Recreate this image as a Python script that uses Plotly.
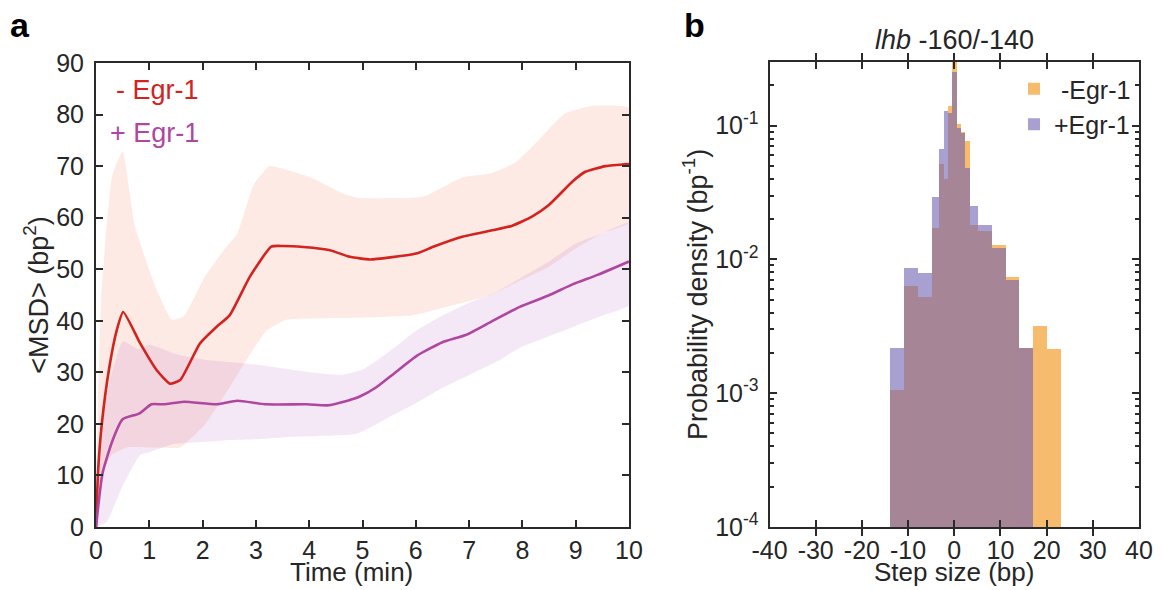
import plotly.graph_objects as go

W, H = 1162, 590

# ---------------- Panel a data (time in min, MSD in bp^2) ----------------
t_red = [0, 0.04, 0.11, 0.25, 0.39, 0.51, 0.83, 1.14, 1.39, 1.58, 1.95, 2.26, 2.51, 2.89, 3.29, 3.51,
         3.89, 4.39, 4.76, 5.14, 5.52, 6.03, 6.34, 6.87, 7.41, 7.80, 8.18, 8.49, 8.95, 9.18, 9.56, 10]
msd_red = [0, 11, 20.1, 31, 38.2, 41.7, 35.6, 30.4, 27.8, 28.5, 35.6, 38.8, 41.1, 48.6, 54.4, 54.5,
           54.3, 53.7, 52.4, 51.9, 52.3, 53.1, 54.4, 56.3, 57.5, 58.4, 60.2, 62.4, 67.1, 68.9, 70.0, 70.4]

t_pur = [0, 0.12, 0.3, 0.5, 0.81, 1.04, 1.27, 1.65, 2.27, 2.65, 3.19, 3.96, 4.34, 4.72, 4.95, 5.26,
         5.57, 6.03, 6.49, 6.95, 7.41, 7.95, 8.49, 8.95, 9.41, 10]
msd_pur = [0, 10.3, 16.5, 20.9, 22.0, 23.8, 23.8, 24.3, 23.8, 24.5, 23.8, 23.8, 23.6, 24.5, 25.3, 27.1,
           29.6, 33.3, 35.8, 37.3, 39.8, 42.7, 44.9, 47.1, 48.9, 51.5]

t_red_hi = [0, 0.03, 0.1, 0.3, 0.5, 0.73, 1.11, 1.42, 1.65, 2.04, 2.42, 2.65, 2.96, 3.26, 3.57, 4.03,
            4.65, 4.95, 5.88, 6.18, 6.87, 7.41, 7.87, 8.18, 8.8, 9.33, 10]
red_hi = [0, 20, 45, 68, 72.9, 58.4, 46.7, 40.2, 40.9, 48.5, 54, 56.9, 66.4, 70, 69.3, 67.8,
          64.6, 63.8, 63.8, 64.2, 67.8, 68.6, 70.7, 73.7, 80.2, 81.7, 81.3]
t_red_lo = [0, 0.1, 0.3, 0.6, 1.1, 1.57, 2.04, 2.5, 2.8, 3.19, 3.57, 4.95, 5.9, 6.5, 7.4, 8.0, 8.5, 9.0, 9.5, 10]
red_lo = [0, 10, 14, 15.5, 15.4, 15.4, 19.8, 27, 32, 38, 40.2, 40.6, 41, 42.5, 45, 48, 50.5, 54, 57, 59]

t_pur_hi = [0, 0.1, 0.3, 0.5, 0.8, 1.0, 1.5, 2, 3, 4, 4.6, 5, 5.5, 6, 6.5, 7, 7.5, 8, 8.5, 9, 9.5, 10]
pur_hi = [0, 20, 30, 36, 34.5, 35.4, 33.5, 32.5, 31.5, 30, 29.5, 30.5, 34, 38, 41, 43.5, 45.5, 48.5,
          51.5, 55, 57, 59]
t_pur_lo = [0, 0.2, 0.5, 0.83, 1.0, 1.45, 2.0, 2.4, 3.0, 3.64, 4.89, 5.5, 6.0, 6.5, 7.0, 7.5, 8.0, 8.5,
            9.0, 9.5, 10]
pur_lo = [0, 1, 8, 14, 14.5, 16.1, 16.5, 16.8, 17, 17.5, 18.1, 21.3, 24, 27, 29.5, 32, 35, 37, 39, 41, 43]

# ---------------- Panel b data (step size histogram) ----------------
bin_edges = [-14, -11, -8, -5, -3.5, -2.4, -1.4, -0.55, 0.5, 1.25, 2.2, 3.4, 5, 8, 11, 14, 17, 20, 23]
dens_minus = [1.06e-3, 6.4e-3, 5.3e-3, 0.0172, 0.052, 0.040, 0.141, 0.33, 0.103, 0.090, 0.077,
              0.018, 0.0163, 0.0128, 0.0074, 0.0022, 0.0032, 0.00215]
dens_plus = [2.2e-3, 8.6e-3, 7.95e-3, 0.0294, 0.067, 0.128, 0.125, 0.253, 0.097, 0.088, 0.048,
             0.025, 0.0181, 0.0123, 0.0071, 0.0022, None, None]

xa_ticks = list(range(0, 11))
ya_ticks = list(range(0, 91, 10))
xb_ticks = [-40, -30, -20, -10, 0, 10, 20, 30, 40]
xb_ticktext = ["-40", "-30", "-20", "-10", "0", "10", "20", "30", "40"]
yb_ticks = [1e-4, 1e-3, 1e-2, 1e-1]
yb_ticktext = ["10<sup>-4</sup>", "10<sup>-3</sup>", "10<sup>-2</sup>", "10<sup>-1</sup>"]

FONT = "Liberation Sans, Arial, sans-serif"
TXT = "#262626"
RED = "#d2231f"
PUR = "#b0479f"

OFF = 8  # page body margin offset

def px_x(p):
    return (p - OFF) / W

def px_y(p):
    return 1 - (p - OFF) / H

centers = [(a + b) / 2 for a, b in zip(bin_edges[:-1], bin_edges[1:])]
widths = [(b - a) for a, b in zip(bin_edges[:-1], bin_edges[1:])]

fig = go.Figure()

# bands (closed polygons built from upper and reversed lower bounds)
fig.add_trace(go.Scatter(
    x=t_red_hi + t_red_lo[::-1], y=red_hi + red_lo[::-1], fill="toself",
    fillcolor="rgba(245,160,130,0.22)", line=dict(width=0, shape="spline", smoothing=0.4),
    mode="lines", hoverinfo="skip", showlegend=False, xaxis="x", yaxis="y"))
fig.add_trace(go.Scatter(
    x=t_pur_hi + t_pur_lo[::-1], y=pur_hi + pur_lo[::-1], fill="toself",
    fillcolor="rgba(190,110,200,0.17)", line=dict(width=0, shape="spline", smoothing=0.4),
    mode="lines", hoverinfo="skip", showlegend=False, xaxis="x", yaxis="y"))
fig.add_trace(go.Scatter(x=t_red, y=msd_red, mode="lines",
                         line=dict(color=RED, width=2.6, shape="spline", smoothing=0.5),
                         showlegend=False, xaxis="x", yaxis="y"))
fig.add_trace(go.Scatter(x=t_pur, y=msd_pur, mode="lines",
                         line=dict(color=PUR, width=2.6, shape="spline", smoothing=0.5),
                         showlegend=False, xaxis="x", yaxis="y"))

# histogram bars
fig.add_trace(go.Bar(x=centers, y=dens_minus, width=widths, name=" -Egr-1",
                     marker=dict(color="rgb(243,143,13)", line=dict(width=0)), opacity=0.6,
                     xaxis="x2", yaxis="y2"))
fig.add_trace(go.Bar(x=centers, y=dens_plus, width=widths, name="+Egr-1",
                     marker=dict(color="rgb(113,97,180)", line=dict(width=0)), opacity=0.6,
                     xaxis="x2", yaxis="y2"))

axis_common = dict(showline=True, linecolor="#2a2a2a", linewidth=2, mirror="allticks",
                   ticks="inside", tickcolor="#2a2a2a", tickwidth=2, ticklen=7,
                   showgrid=False, zeroline=False, automargin=False,
                   tickfont=dict(family=FONT, size=25, color=TXT),
                   title_font=dict(family=FONT, size=27, color=TXT))

minor_common = dict(ticks="inside", ticklen=4, tickcolor="#2a2a2a", tickwidth=1.5,
                    dtick="D1", showgrid=False)

fig.update_layout(
    width=W, height=H, margin=dict(l=0, r=0, t=0, b=0, autoexpand=False),
    paper_bgcolor="white", plot_bgcolor="white",
    barmode="overlay", bargap=0,
    font=dict(family=FONT, color=TXT),
    xaxis=dict(domain=[px_x(96), px_x(629)], anchor="y", range=[0, 10],
               tickvals=xa_ticks, **axis_common),
    yaxis=dict(domain=[px_y(527), px_y(63)], anchor="x", range=[0, 90],
               tickvals=ya_ticks, title=dict(text="&lt;MSD&gt; (bp<sup>2</sup>)", standoff=0),
               ticklabelstandoff=5, **axis_common),
    xaxis2=dict(domain=[px_x(769.5), px_x(1139)], anchor="y2", range=[-40, 40],
                tickvals=xb_ticks, ticktext=xb_ticktext, **axis_common),
    yaxis2=dict(domain=[px_y(527), px_y(61.7)], anchor="x2", type="log", range=[-4, -0.523],
                tickvals=yb_ticks, ticktext=yb_ticktext, minor=minor_common,
                title=dict(text="Probability density (bp<sup>-1</sup>)", standoff=0),
                ticklabelstandoff=4, **axis_common),
    yaxis3=dict(domain=[px_y(527), px_y(61.7)], anchor="x2", overlaying="y2", side="right",
                type="log", range=[-4, -0.523], tickvals=yb_ticks, showticklabels=False,
                ticks="inside", tickcolor="#2a2a2a", tickwidth=2, ticklen=7, minor=minor_common,
                showline=False, showgrid=False, zeroline=False, automargin=False),
    legend=dict(x=px_x(1136), y=px_y(66), xanchor="right", yanchor="top",
                bgcolor="rgba(0,0,0,0)", font=dict(family=FONT, size=25, color=TXT),
                tracegroupgap=0, itemwidth=30),
    annotations=[
        dict(text="<b>a</b>", x=px_x(8), y=px_y(25), xref="paper", yref="paper",
             xanchor="left", yanchor="middle", showarrow=False,
             font=dict(family=FONT, size=34, color="black")),
        dict(text="<b>b</b>", x=px_x(682), y=px_y(25), xref="paper", yref="paper",
             xanchor="left", yanchor="middle", showarrow=False,
             font=dict(family=FONT, size=34, color="black")),
        dict(text="- Egr-1", x=px_x(201), y=px_y(90), xref="paper", yref="paper",
             xanchor="right", yanchor="middle", showarrow=False,
             font=dict(family=FONT, size=27, color=RED)),
        dict(text="+ Egr-1", x=px_x(201), y=px_y(133), xref="paper", yref="paper",
             xanchor="right", yanchor="middle", showarrow=False,
             font=dict(family=FONT, size=27, color=PUR)),
        dict(text="<i>lhb</i> -160/-140", x=px_x(954), y=px_y(40), xref="paper", yref="paper",
             xanchor="center", yanchor="middle", showarrow=False,
             font=dict(family=FONT, size=27, color=TXT)),
        dict(text="Time (min)", x=px_x(351), y=px_y(572), xref="paper", yref="paper",
             xanchor="center", yanchor="middle", showarrow=False,
             font=dict(family=FONT, size=26, color=TXT)),
        dict(text="Step size (bp)", x=px_x(954), y=px_y(572), xref="paper", yref="paper",
             xanchor="center", yanchor="middle", showarrow=False,
             font=dict(family=FONT, size=26, color=TXT)),
    ],
)

# invisible anchor trace so the mirrored right-side log axis is drawn
fig.add_trace(go.Scatter(x=[None], y=[None], xaxis="x2", yaxis="y3", showlegend=False,
                         hoverinfo="skip"))

fig.write_html("out.html")
